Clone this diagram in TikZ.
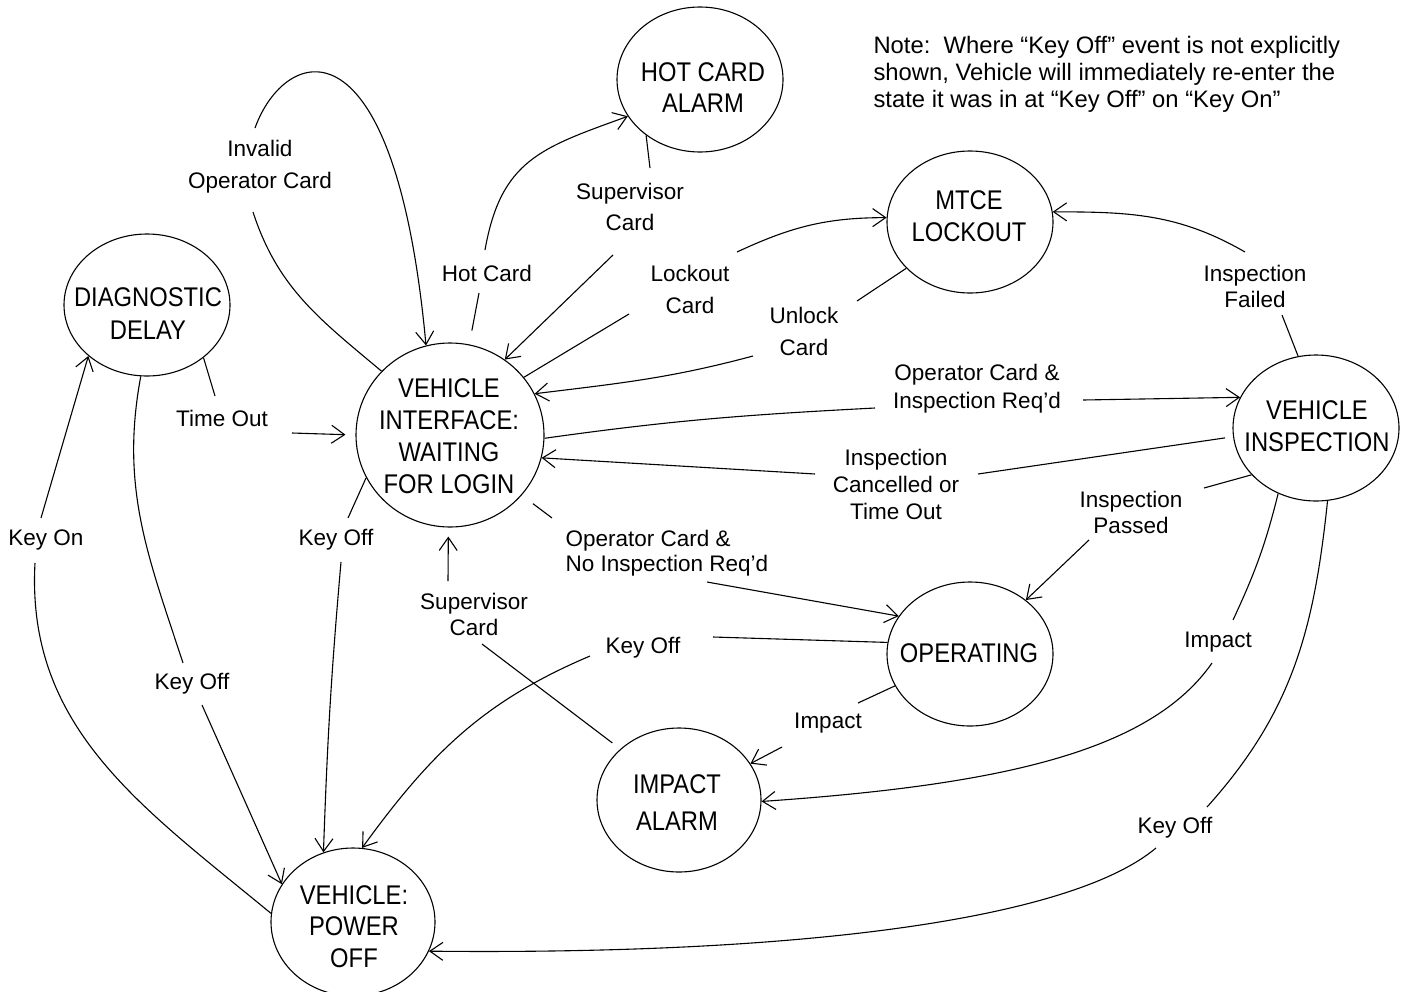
\documentclass[tikz,border=0pt]{standalone}
\usepackage{fontspec}
\setmainfont{Liberation Sans}
\newfontfamily\statefont[FakeStretch=0.88]{Liberation Sans}
\usetikzlibrary{shapes.geometric,arrows.meta}
\begin{document}
\begin{tikzpicture}[x=1pt,y=1pt,line width=1.1pt,
  state/.style={draw, ellipse, inner sep=0pt},
  stxt/.style={align=center, inner sep=0pt, font=\statefont\fontsize{27}{#1}\selectfont},
  stxt/.default=32,
  lbl/.style={align=center, inner sep=0pt, font=\fontsize{22.5}{#1}\selectfont},
  lbl/.default=30,
  arr/.style={-{Straight Barb[length=13pt,width=18pt]}},
]
\useasboundingbox (0,0) rectangle (1408,-991);

% ---- states ----
\node[state, minimum width=166pt, minimum height=145pt] (hc) at (700,-79.5) {};
\node[stxt=31] (hcT) at (703,-87.5) {HOT CARD\\ALARM};
\node[state, minimum width=166pt, minimum height=142pt] (diag) at (147,-305) {};
\node[stxt=33] (diagT) at (148,-313.5) {DIAGNOSTIC\\DELAY};
\node[state, minimum width=188pt, minimum height=184pt] (vi) at (450,-435) {};
\node[stxt] (viT) at (449,-436) {VEHICLE\\INTERFACE:\\WAITING\\FOR LOGIN};
\node[state, minimum width=166pt, minimum height=142pt] (mt) at (970,-222) {};
\node[stxt] (mtT) at (969,-216) {MTCE\\LOCKOUT};
\node[state, minimum width=166pt, minimum height=146pt] (vin) at (1316,-428) {};
\node[stxt] (vinT) at (1317,-426) {VEHICLE\\INSPECTION};
\node[state, minimum width=166pt, minimum height=144pt] (op) at (970,-654) {};
\node[stxt] (opT) at (969,-653) {OPERATING};
\node[state, minimum width=164pt, minimum height=144pt] (ia) at (679,-800) {};
\node[stxt=37] (iaT) at (677,-802.5) {IMPACT\\ALARM};
\node[state, minimum width=164pt, minimum height=148pt] (po) at (353,-922) {};
\node[stxt=31.5] (poT) at (354,-926.5) {VEHICLE:\\POWER\\OFF};

% ---- note ----
\node[anchor=west, align=left, inner sep=0pt, font=\fontsize{23.8}{27}\selectfont] (note) at (873,-74)
  {Note:\ \ Where “Key Off” event is not explicitly\\shown, Vehicle will immediately re-enter the\\state it was in at “Key Off” on “Key On”};

% ---- labels ----
\node[lbl=32] (inv) at (260,-167) {Invalid\\Operator Card};
\node[lbl] (hot) at (487,-273) {Hot Card};
\node[lbl=31] (sup1) at (630,-207) {Supervisor\\Card};
\node[lbl=32] (lock) at (690,-289) {Lockout\\Card};
\node[lbl=32] (unl) at (804,-331) {Unlock\\Card};
\node[lbl=28] (opi) at (977,-389) {Operator Card \&\\Inspection Req’d};
\node[lbl=27] (canc) at (896,-484) {Inspection\\Cancelled or\\Time Out};
\node[lbl=26] (fail) at (1255,-286) {Inspection\\Failed};
\node[lbl=26] (pass) at (1131,-512) {Inspection\\Passed};
\node[lbl] (imp1) at (1218,-642) {Impact};
\node[lbl] (ko1) at (1175,-828) {Key Off};
\node[lbl=25, align=left, anchor=west] (opn) at (565,-553) {Operator Card \&\\No Inspection Req’d};
\node[lbl] (ko2) at (643,-648) {Key Off};
\node[lbl] (imp2) at (828,-723) {Impact};
\node[lbl=26] (sup2) at (474,-614) {Supervisor\\Card};
\node[lbl] (ko3) at (336,-540) {Key Off};
\node[lbl] (tmo) at (222,-418) {Time Out};
\node[lbl] (kon) at (46,-540) {Key On};
\node[lbl] (ko4) at (192,-684) {Key Off};

% ---- connectors ----
% Invalid Operator Card (self loop)
\draw (vi.137) to[out=140,in=-72] ([shift={(-7,-45)}]inv.center);
\draw[arr] ([shift={(-5,39)}]inv.center) .. controls (285,-45) and (395,-10) .. (vi.105);
% Hot Card
\draw[shorten <=14pt] (vi.78) -- ([shift={(-8,-20)}]hot.center);
\draw[arr] ([shift={(-2,23)}]hot.center) to[out=80,in=200,looseness=1.2] (hc.207);
% Supervisor Card (hot card alarm -> VI)
\draw (hc.226) -- ([shift={(20,39)}]sup1.center);
\draw[arr] ([shift={(-17,-48)}]sup1.center) -- (vi.54);
% Lockout Card
\draw (vi.38) -- ([shift={(-61,-25)}]lock.center);
\draw[arr] ([shift={(47,37)}]lock.center) to[out=25,in=180] (mt.177);
% Unlock Card
\draw (mt.216) -- ([shift={(53,30)}]unl.center);
\draw[arr] ([shift={(-51,-25)}]unl.center) to[out=195,in=7] (vi.26);
% Operator Card & Inspection Req'd
\draw (vi.-2) to[out=8,in=183] ([shift={(-102,-19)}]opi.center);
\draw[arr] ([shift={(106,-11)}]opi.center) -- (vin.158);
% Inspection Cancelled or Time Out
\draw[shorten <=8pt] (vin.186) -- ([shift={(82,10)}]canc.center);
\draw[arr] ([shift={(-81,10)}]canc.center) -- (vi.-14);
% Inspection Failed
\draw (vin.104) -- ([shift={(27,-29)}]fail.center);
\draw[arr] ([shift={(-10,34)}]fail.center) to[out=150,in=0] (mt.7);
% Inspection Passed
\draw (vin.216) -- ([shift={(73,24)}]pass.center);
\draw[arr] ([shift={(-42,-28)}]pass.center) -- (op.44);
% Impact (inspection -> impact alarm)
\draw (vin.240) to[out=-104,in=65] ([shift={(15,22)}]imp1.center);
\draw[arr] ([shift={(-6,-21)}]imp1.center) .. controls (1150,-752) and (1000,-785) .. (ia.-1);
% Key Off (inspection -> power off)
\draw (vin.-81) to[out=-96,in=48] ([shift={(32,21)}]ko1.center);
\draw[arr] ([shift={(-19,-20)}]ko1.center) .. controls (1070,-920) and (800,-955) .. (po.-21);
% Operator Card & No Inspection Req'd
\draw[shorten <=14pt] (vi.-40) -- ([shift={(-13,35)}]opn.west);
\draw[arr] ([shift={(142,-29)}]opn.west) -- (op.152);
% Key Off (operating -> power off)
\draw (op.172) -- ([shift={(70,11)}]ko2.center);
\draw[arr] ([shift={(-53,-8)}]ko2.center) to[out=203,in=54] (po.83);
% Impact (operating -> impact alarm)
\draw (op.203) -- ([shift={(30,20)}]imp2.center);
\draw[arr] ([shift={(-46,-24)}]imp2.center) -- (ia.27);
% Supervisor Card (impact alarm -> VI)
\draw[shorten <=10pt] (ia.139) -- ([shift={(8,-30)}]sup2.center);
\draw[arr, shorten >=9pt] ([shift={(-26,33)}]sup2.center) -- (vi.-91);
% Key Off (VI -> power off)
\draw (vi.207) -- ([shift={(12,22)}]ko3.center);
\draw[arr] ([shift={(5,-22)}]ko3.center) to[out=-95,in=88] (po.113);
% Time Out
\draw (diag.-43) -- ([shift={(-7,22)}]tmo.center);
\draw[arr, shorten >=10pt] ([shift={(70,-15)}]tmo.center) -- (vi.180);
% Key On
\draw (po.174) .. controls (142,-807) and (26,-728) .. ([shift={(-11,-23)}]kon.center);
\draw[arr] ([shift={(-5,22)}]kon.center) -- (diag.221);
% Key Off (diagnostic -> power off)
\draw (diag.-95) .. controls (120,-488) and (148,-556) .. ([shift={(-9,21)}]ko4.center);
\draw[arr] ([shift={(10,-21)}]ko4.center) -- (po.152);
\end{tikzpicture}
\end{document}
